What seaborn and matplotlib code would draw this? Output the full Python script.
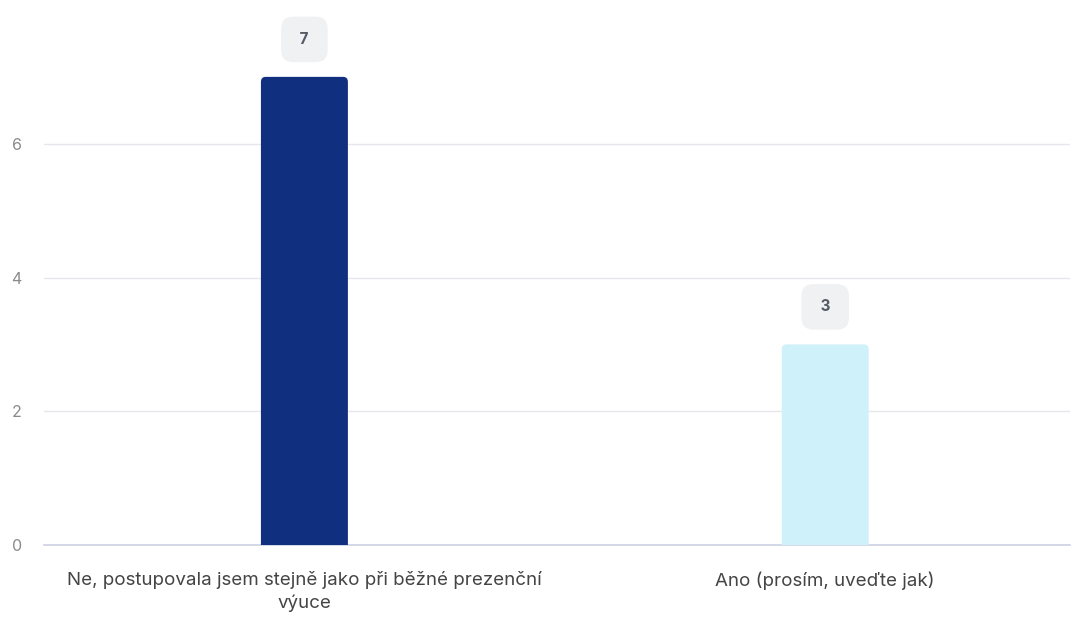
import matplotlib
matplotlib.use("Agg")
import matplotlib.pyplot as plt
import seaborn as sns
import pandas as pd
from matplotlib.patches import FancyBboxPatch

categories = ["Ne, postupovala jsem stejně jako při běžné prezenční\nvýuce",
              "Ano (prosím, uveďte jak)"]
values = [7, 3]
colors = ["#112f7f", "#cff1f9"]
yticks = [0, 2, 4, 6]

sns.set_theme(style="white")
plt.rcParams['font.family'] = ['Inter', 'DejaVu Sans']

df = pd.DataFrame({"odpoved": categories, "pocet": values})

fig = plt.figure(figsize=(10.73, 6.17), dpi=100)
ax = fig.add_axes([44 / 1073, 1 - 545 / 617, 1026 / 1073, 535 / 617])

sns.barplot(data=df, x="odpoved", y="pocet", hue="odpoved", palette=colors,
            saturation=1, width=0.167, legend=False, ax=ax)

# swap the flat bars for ones with rounded tops
rx, ry = 0.009, 0.075
for p in list(ax.patches):
    x0, w, h = p.get_x(), p.get_width(), p.get_height()
    fc = p.get_facecolor()
    p.set_visible(False)
    ax.add_patch(FancyBboxPatch((x0, -0.3), w, h + 0.3,
                                boxstyle=f"round,pad=0,rounding_size={rx}",
                                mutation_aspect=ry / rx, fc=fc, ec="none",
                                zorder=3, clip_on=True))

for i, v in enumerate(values):
    ax.annotate(f" {v} ", (i, v), xytext=(0, 27), textcoords="offset points",
                ha="center", va="center", fontsize=11, fontweight="bold",
                color="#555b66",
                bbox=dict(boxstyle="round,pad=1.0,rounding_size=0.8",
                          fc="#f0f1f3", ec="none"))

ax.set_xlim(-0.5, 1.47)
ax.set_ylim(0, 8.0)
ax.set_yticks(yticks)
ax.yaxis.grid(True, color="#e6e7ec", linewidth=1)
ax.set_axisbelow(True)
for s in ["top", "right", "left"]:
    ax.spines[s].set_visible(False)
ax.spines["bottom"].set_color("#cdd2e2")
ax.spines["bottom"].set_linewidth(1.2)
ax.tick_params(axis="y", length=0, pad=16, labelsize=11.5, labelcolor="#8a8a8a")
ax.tick_params(axis="x", length=0, pad=19, labelsize=13.5, labelcolor="#444444")
for t in ax.get_xticklabels():
    t.set_linespacing(1.4)
ax.set_xlabel("")
ax.set_ylabel("")

fig.savefig("out.png", dpi=100)
